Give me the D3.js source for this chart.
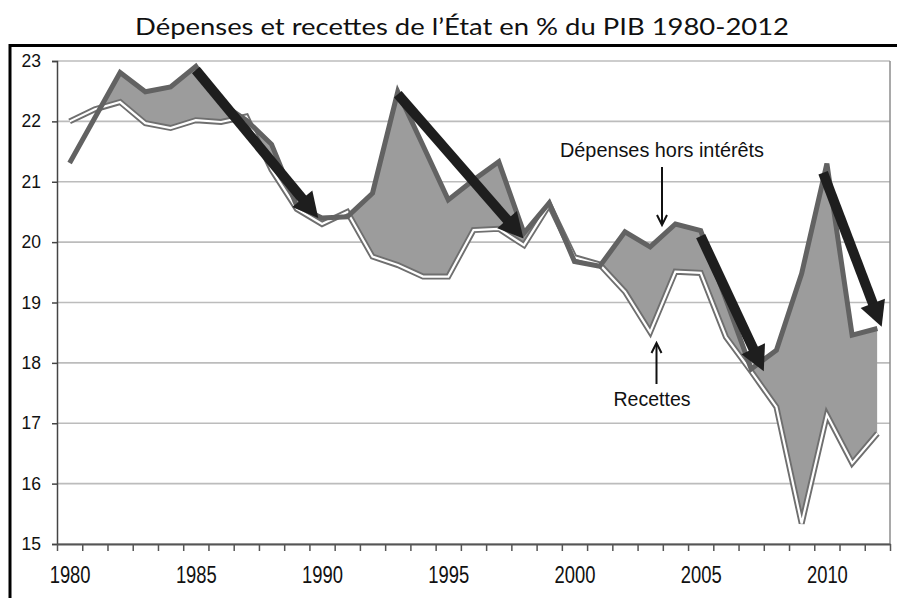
<!DOCTYPE html>
<html>
<head>
<meta charset="utf-8">
<script src="https://cdn.jsdelivr.net/npm/d3@7"></script>
<style>
  body { margin: 0; background: #fff; }
  svg { display: block; }
</style>
</head>
<body>
<div id="chart"></div>
<script>

// data
const years = [1980, 1981, 1982, 1983, 1984, 1985, 1986, 1987, 1988, 1989,
               1990, 1991, 1992, 1993, 1994, 1995, 1996, 1997, 1998, 1999,
               2000, 2001, 2002, 2003, 2004, 2005, 2006, 2007, 2008, 2009,
               2010, 2011, 2012]
const depenses = [21.31, 22.06, 22.81, 22.49, 22.57, 22.91, 22.30, 22.02, 21.62, 20.60,
                  20.40, 20.42, 20.81, 22.49, 21.60, 20.70, 21.03, 21.33, 20.15, 20.65,
                  19.68, 19.60, 20.17, 19.92, 20.30, 20.19, 19.05, 17.90, 18.21, 19.48,
                  21.30, 18.46, 18.57]
const recettes = [22.00, 22.20, 22.32, 21.97, 21.89, 22.02, 21.99, 22.08, 21.20, 20.55,
                  20.30, 20.50, 19.76, 19.62, 19.43, 19.43, 20.20, 20.22, 19.95, 20.62,
                  19.75, 19.63, 19.18, 18.51, 19.51, 19.49, 18.43, 17.86, 17.27, 15.34,
                  17.14, 16.34, 16.83]
const yTicks = [15, 16, 17, 18, 19, 20, 21, 22, 23]
const xLabels = [1980, 1985, 1990, 1995, 2000, 2005, 2010]
const trendArrows = [
  { from: [1985, 22.85], to: [1989.85, 20.40] },
  { from: [1993, 22.45], to: [1997.98, 20.06] },
  { from: [2005, 20.10], to: [2007.5, 17.86] },
  { from: [2009.85, 21.15], to: [2012.17, 18.6] },
]
const chartTitle = "Dépenses et recettes de l’État en % du PIB 1980-2012"

function drawChart() {

  // 1. dimensions
  const dimensions = {
    width: 897,
    height: 598,
    margin: { top: 61, right: 7, bottom: 54, left: 57 },
  }
  dimensions.boundedWidth = dimensions.width
    - dimensions.margin.left - dimensions.margin.right
  dimensions.boundedHeight = dimensions.height
    - dimensions.margin.top - dimensions.margin.bottom

  // 2. canvas
  const wrapper = d3.select("#chart")
    .append("svg")
      .attr("width", dimensions.width)
      .attr("height", dimensions.height)

  // title and frame
  wrapper.append("text")
    .attr("x", 462)
    .attr("y", 35)
    .attr("text-anchor", "middle")
    .attr("font-family", "Lato, 'Open Sans', sans-serif")
    .attr("font-size", 24)
    .attr("fill", "#111")
    .attr("textLength", 654)
    .attr("lengthAdjust", "spacingAndGlyphs")
    .text(chartTitle)

  wrapper.append("path")
    .attr("d", "M10,598 V45.5 H897")
    .attr("fill", "none")
    .attr("stroke", "#000")
    .attr("stroke-width", 3)

  const bounds = wrapper.append("g")
    .attr("transform", `translate(${dimensions.margin.left},${dimensions.margin.top})`)

  // 3. scales
  const xScale = d3.scaleLinear()
    .domain([1979.5, 2012.5])
    .range([0, dimensions.boundedWidth])

  const yScale = d3.scaleLinear()
    .domain([15, 23])
    .range([dimensions.boundedHeight, 0])

  // 4. gridlines
  bounds.append("g")
    .selectAll("line")
    .data(yTicks)
    .join("line")
      .attr("x1", 0)
      .attr("x2", dimensions.boundedWidth)
      .attr("y1", d => yScale(d))
      .attr("y2", d => yScale(d))
      .attr("stroke", "#bcbcbc")
      .attr("stroke-width", 1.6)

  bounds.append("line")
    .attr("x1", dimensions.boundedWidth)
    .attr("x2", dimensions.boundedWidth)
    .attr("y1", 0)
    .attr("y2", dimensions.boundedHeight)
    .attr("stroke", "#8c8c8c")
    .attr("stroke-width", 1.5)

  // 5. data
  const rows = years.map((yr, i) => ({ year: yr, dep: depenses[i], rec: recettes[i] }))

  // only fill where spending is above receipts
  const clipArea = d3.area()
    .x(d => xScale(d.year))
    .y0(d => yScale(d.rec))
    .y1(-10)

  bounds.append("clipPath")
    .attr("id", "above-rec")
    .append("path")
      .attr("d", clipArea(rows))

  const gapArea = d3.area()
    .x(d => xScale(d.year))
    .y0(d => yScale(d.rec))
    .y1(d => yScale(d.dep))

  bounds.append("path")
    .attr("d", gapArea(rows))
    .attr("fill", "#9c9c9c")
    .attr("clip-path", "url(#above-rec)")

  const recLine = d3.line()
    .x(d => xScale(d.year))
    .y(d => yScale(d.rec))

  const depLine = d3.line()
    .x(d => xScale(d.year))
    .y(d => yScale(d.dep))

  bounds.append("path")
    .attr("d", recLine(rows))
    .attr("fill", "none")
    .attr("stroke", "#6f6f6f")
    .attr("stroke-width", 6)
    .attr("stroke-linejoin", "miter")

  bounds.append("path")
    .attr("d", recLine(rows))
    .attr("fill", "none")
    .attr("stroke", "#fff")
    .attr("stroke-width", 2.2)
    .attr("stroke-linejoin", "miter")

  bounds.append("path")
    .attr("d", depLine(rows))
    .attr("fill", "none")
    .attr("stroke", "#626262")
    .attr("stroke-width", 5)
    .attr("stroke-linejoin", "miter")

  // 6. big trend arrows
  const arrowGroup = bounds.append("g")
  trendArrows.forEach(a => {
    const x0 = xScale(a.from[0]), y0 = yScale(a.from[1])
    const x1 = xScale(a.to[0]), y1 = yScale(a.to[1])
    const len = Math.hypot(x1 - x0, y1 - y0)
    const ux = (x1 - x0) / len, uy = (y1 - y0) / len
    const headLen = 25, headW = 26
    const bx = x1 - ux * headLen, by = y1 - uy * headLen
    arrowGroup.append("line")
      .attr("x1", x0).attr("y1", y0)
      .attr("x2", bx + ux * 2).attr("y2", by + uy * 2)
      .attr("stroke", "#1e1e1e")
      .attr("stroke-width", 10)
    arrowGroup.append("path")
      .attr("d", `M${x1},${y1} L${bx - uy * headW / 2},${by + ux * headW / 2} L${bx + uy * headW / 2},${by - ux * headW / 2} Z`)
      .attr("fill", "#1e1e1e")
  })

  // 7. labels with small arrows
  const annotations = bounds.append("g")
    .attr("font-family", "'Liberation Sans', Arial, sans-serif")
    .attr("font-size", 19.5)
    .attr("fill", "#111")

  annotations.append("text")
    .attr("x", 662 - dimensions.margin.left)
    .attr("y", 157 - dimensions.margin.top)
    .attr("text-anchor", "middle")
    .attr("textLength", 204)
    .attr("lengthAdjust", "spacingAndGlyphs")
    .text("Dépenses hors intérêts")

  annotations.append("text")
    .attr("x", 652 - dimensions.margin.left)
    .attr("y", 406 - dimensions.margin.top)
    .attr("text-anchor", "middle")
    .attr("textLength", 77)
    .attr("lengthAdjust", "spacingAndGlyphs")
    .text("Recettes")

  const smallArrow = (x, yFrom, yTo) => {
    const dir = yTo > yFrom ? 1 : -1
    annotations.append("line")
      .attr("x1", x).attr("x2", x)
      .attr("y1", yFrom).attr("y2", yTo - dir * 2)
      .attr("stroke", "#111")
      .attr("stroke-width", 2)
    annotations.append("path")
      .attr("d", `M${x - 5},${yTo - dir * 10} L${x},${yTo} L${x + 5},${yTo - dir * 10}`)
      .attr("fill", "none")
      .attr("stroke", "#111")
      .attr("stroke-width", 2)
  }
  smallArrow(662 - dimensions.margin.left, 167 - dimensions.margin.top, 225 - dimensions.margin.top)
  smallArrow(656.5 - dimensions.margin.left, 384 - dimensions.margin.top, 343 - dimensions.margin.top)

  // 8. axes
  const yAxisGenerator = d3.axisLeft(yScale)
    .tickValues(yTicks)
    .tickSize(5)
    .tickPadding(11)

  const yAxis = bounds.append("g")
    .call(yAxisGenerator)
  yAxis.select(".domain").attr("stroke", "#444").attr("stroke-width", 1.5)
  yAxis.selectAll(".tick line").attr("stroke", "#444").attr("stroke-width", 1.5)
  yAxis.selectAll("text")
    .attr("font-family", "'Liberation Sans', Arial, sans-serif")
    .attr("font-size", 17.5)
    .attr("fill", "#111")

  const tickBounds = years.map(yr => yr - 0.5).concat([2012.5])
  const xTickGenerator = d3.axisBottom(xScale)
    .tickValues(tickBounds)
    .tickFormat("")
    .tickSize(7)
    .tickSizeOuter(0)

  const xAxis = bounds.append("g")
    .attr("transform", `translate(0,${dimensions.boundedHeight})`)
    .call(xTickGenerator)
  xAxis.select(".domain").attr("stroke", "#555").attr("stroke-width", 2)
  xAxis.selectAll(".tick line").attr("stroke", "#555").attr("stroke-width", 1.5)

  const xLabelGenerator = d3.axisBottom(xScale)
    .tickValues(xLabels)
    .tickFormat(d3.format("d"))
    .tickSize(0)
    .tickPadding(23)

  const xLabelAxis = bounds.append("g")
    .attr("transform", `translate(0,${dimensions.boundedHeight})`)
    .call(xLabelGenerator)
  xLabelAxis.select(".domain").remove()
  xLabelAxis.selectAll("text")
    .attr("font-family", "'Liberation Sans', Arial, sans-serif")
    .attr("font-size", 23)
    .attr("fill", "#111")
    .attr("transform", "scale(0.8,1)")
}

drawChart()
</script>
</body>
</html>
